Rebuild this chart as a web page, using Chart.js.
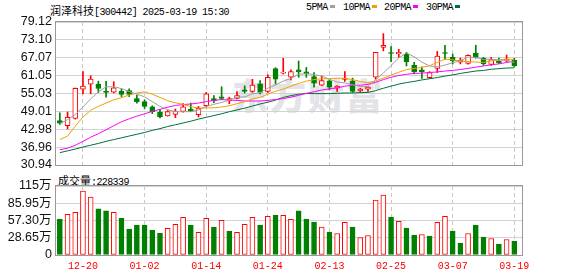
<!DOCTYPE html>
<html lang="zh-CN">
<head>
  <meta charset="UTF-8" />
  <title>润泽科技 日K</title>
  <script src="https://cdn.jsdelivr.net/npm/chart.js@4.4.1/dist/chart.umd.min.js"></script>
  <style>
    html, body { margin: 0; padding: 0; background: #fff; }
    #wrap { position: relative; width: 578px; height: 276px; overflow: hidden; }
    .abs { position: absolute; white-space: nowrap; line-height: 12px; color: #000; }
    .cjk { font: 11px 'Noto Sans CJK SC', sans-serif; }
    .mono { font: 10px 'Liberation Mono', monospace; letter-spacing: -0.6px; }
    .sq { display: inline-block; width: 5px; height: 3px; margin: 0 0 2px 2px; vertical-align: middle; }
    #watermark {
      position: absolute; left: 232px; top: 68px;
      font: 900 36px 'Noto Sans CJK SC', sans-serif;
      color: #e3e3e8; letter-spacing: 2px; white-space: nowrap;
    }
    canvas { position: absolute; left: 0; }
    #priceChart { top: 0; }
    #volChart { top: 170px; }
  </style>
</head>
<body>
<div id="wrap">
  <div id="watermark">东方财富</div>

  <div class="abs" style="left:50px; top:2px;"><span class="cjk">润泽科技</span><span class="mono">[300442] 2025-03-19 15:30</span></div>
  <div class="abs mono" style="left:306px; top:2px;">5PMA<span class="sq" style="background:#a0a0a0"></span></div>
  <div class="abs mono" style="left:343px; top:2px;">10PMA<span class="sq" style="background:#f0a000"></span></div>
  <div class="abs mono" style="left:384px; top:2px;">20PMA<span class="sq" style="background:#ff00ff"></span></div>
  <div class="abs mono" style="left:426px; top:2px;">30PMA<span class="sq" style="background:#006f3c"></span></div>
  <div class="abs" style="left:58px; top:172px;"><span class="cjk">成交量</span><span class="mono">:228339</span></div>

  <canvas id="priceChart" width="578" height="170"></canvas>
  <canvas id="volChart" width="578" height="106"></canvas>
</div>

<script>
  // ==== DATA ====
  const dates = [
    '12-17','12-18','12-19','12-20','12-23','12-24','12-25','12-26','12-27','12-30','12-31',
    '01-02','01-03','01-06','01-07','01-08','01-09','01-10','01-13','01-14','01-15','01-16','01-17',
    '01-20','01-21','01-22','01-23','01-24','01-27',
    '02-05','02-06','02-07','02-10','02-11','02-12','02-13','02-14','02-17','02-18','02-19','02-20',
    '02-21','02-24','02-25','02-26','02-27','02-28',
    '03-03','03-04','03-05','03-06','03-07','03-10','03-11','03-12','03-13','03-14','03-17','03-18','03-19'
  ];

  const opens = [45.9, 44.2, 46.6, 56.5, 58.2, 58.2, 55.55, 55.5, 55.8, 56.0,
                 53.3, 52.3, 50.5, 48.8, 47.5, 48.0, 49.0, 49.8, 47.9, 50.9,
                 53.3, 53.9, 52.7, 53.4, 56.3, 55.7, 58.3, 55.7, 63.4, 61.9,
                 60.5, 62.97, 62.3, 60.7, 57.8, 59.3, 56.8, 59.8, 59.3, 55.9,
                 56.5, 60.5, 70.55, 68.8, 68.4, 68.2, 64.5, 62.97, 60.4, 63.5,
                 68.8, 67.2, 65.6, 65.2, 68.65, 67.0, 64.8, 65.9, 66.1, 66.3];
  const closes = [45.0, 47.0, 56.8, 57.5, 59.9, 56.7, 55.4, 56.9, 54.7, 54.7,
                  52.3, 50.7, 48.9, 47.1, 48.9, 49.1, 50.5, 49.1, 50.0, 54.9,
                  52.6, 53.4, 53.3, 54.3, 55.7, 57.9, 55.4, 60.5, 59.9, 62.2,
                  62.4, 62.3, 61.7, 58.5, 59.4, 57.2, 57.5, 60.2, 55.7, 56.5,
                  57.2, 68.9, 71.3, 68.5, 68.9, 65.75, 62.3, 62.4, 62.1, 67.65,
                  68.5, 66.1, 66.3, 67.9, 67.1, 65.0, 66.5, 65.4, 66.3, 64.4];
  const highs = [48.5, 48.8, 56.9, 62.4, 61.0, 59.2, 59.1, 59.0, 56.6, 56.6,
                 54.5, 52.9, 50.9, 49.6, 49.3, 49.8, 51.6, 51.8, 50.7, 55.4,
                 54.3, 57.3, 53.8, 55.7, 57.6, 59.8, 59.4, 61.3, 63.7, 66.9,
                 62.97, 65.97, 63.8, 62.1, 60.96, 59.6, 57.7, 62.4, 60.2, 56.8,
                 57.4, 68.9, 75.2, 70.8, 69.9, 68.9, 65.5, 64.0, 62.4, 69.2,
                 71.3, 68.3, 67.0, 68.1, 71.3, 67.2, 67.2, 67.0, 68.0, 66.9];
  const lows = [44.6, 43.1, 46.4, 54.9, 54.9, 55.4, 53.8, 55.2, 54.0, 54.0,
                51.8, 50.0, 48.25, 46.8, 47.4, 46.9, 48.7, 48.9, 47.1, 50.5,
                51.9, 52.9, 51.6, 53.2, 55.2, 55.4, 54.9, 55.4, 58.2, 61.6,
                59.6, 60.5, 60.5, 57.2, 57.7, 56.3, 55.7, 59.1, 55.4, 55.4,
                55.7, 59.8, 69.4, 65.75, 67.2, 64.3, 61.6, 60.1, 60.1, 62.1,
                66.5, 65.0, 65.0, 64.9, 66.9, 64.5, 64.5, 65.1, 65.6, 64.1];

  const ma5 = [44.9, 46.2, 47.9, 50.5, 53.2, 55.6, 57.3, 57.3, 56.7, 55.7,
               54.8, 53.9, 52.3, 50.7, 49.6, 48.9, 48.9, 48.9, 49.5, 50.7,
               51.4, 52.0, 52.8, 53.7, 53.9, 54.9, 55.3, 56.8, 57.9, 59.2,
               60.1, 61.5, 61.7, 61.4, 60.9, 59.8, 58.9, 58.6, 58.0, 57.4,
               57.4, 59.7, 61.9, 64.5, 67.0, 68.7, 67.4, 65.6, 64.3, 64.0,
               64.6, 65.4, 66.1, 67.3, 67.2, 66.5, 66.6, 66.4, 66.1, 65.5];
  const ma10 = [39.5, 40.7, 44.0, 47.1, 49.4, 50.7, 51.8, 52.9, 53.6, 54.5,
                55.2, 55.6, 54.8, 53.7, 52.6, 51.9, 51.4, 50.6, 50.1, 50.2,
                50.2, 50.5, 50.9, 51.6, 52.3, 53.2, 53.7, 54.8, 55.8, 56.5,
                57.5, 58.4, 59.2, 59.7, 60.0, 60.0, 60.2, 60.1, 59.7, 59.1,
                58.6, 59.3, 60.2, 61.2, 62.2, 63.1, 63.5, 63.8, 64.4, 65.5,
                66.6, 66.4, 65.9, 65.8, 65.6, 65.5, 66.0, 66.3, 66.7, 66.4];
  const ma20 = [36.1, 36.6, 37.6, 38.9, 40.3, 41.5, 42.8, 44.2, 45.5, 46.5,
                47.4, 48.2, 49.0, 49.7, 50.4, 51.0, 51.3, 51.5, 51.8, 52.3,
                52.7, 53.0, 52.8, 52.7, 52.5, 52.5, 52.5, 52.7, 53.0, 53.3,
                53.8, 54.4, 55.1, 55.6, 56.2, 56.6, 56.9, 57.5, 57.8, 57.8,
                58.1, 58.8, 59.7, 60.5, 61.1, 61.5, 61.8, 61.9, 62.1, 62.3,
                62.6, 62.8, 63.1, 63.5, 63.9, 64.3, 64.7, 65.0, 65.5, 65.9];
  const ma30 = [35.1, 35.7, 36.3, 37.0, 37.6, 38.2, 38.9, 39.5, 40.1, 40.7,
                41.3, 41.9, 42.6, 43.2, 43.9, 44.5, 45.1, 45.7, 46.4, 47.0,
                47.6, 48.2, 48.9, 49.5, 50.1, 50.8, 51.5, 52.1, 52.8, 53.7,
                54.3, 54.8, 55.0, 55.0, 55.0, 55.0, 55.1, 55.2, 55.2, 55.3,
                55.4, 56.0, 56.8, 57.5, 58.2, 58.7, 59.1, 59.6, 60.0, 60.4,
                60.9, 61.3, 61.8, 62.2, 62.6, 62.8, 63.2, 63.4, 63.6, 63.7];

  // volume in 万
  const volumes = [60.0, 67.9, 71.2, 106.6, 96.5, 76.9, 73.5, 71.2, 61.7, 43.2,
                   49.9, 49.9, 41.5, 36.5, 44.3, 51.1, 62.8, 49.9, 37.6, 61.2,
                   46.6, 57.8, 39.8, 37.6, 51.1, 62.8, 49.9, 64.5, 66.2, 66.2,
                   59.5, 73.5, 60.0, 55.0, 46.6, 38.1, 35.9, 54.4, 46.6, 29.2,
                   32.5, 91.4, 99.9, 63.4, 56.1, 44.9, 33.1, 34.2, 31.4, 54.4,
                   64.5, 39.8, 19.6, 35.9, 49.9, 29.7, 27.5, 18.0, 25.8, 22.8];
  // 1 = red (up), 0 = green (down)
  const volUp = [0,1,1,1,1,0,0,1,0,0, 0,0,0,0,1,1,1,0,1,1, 0,1,0,1,1,1,0,1,0,1,
                 1,0,0,0,1,0,1,1,0,1, 1,1,1,0,1,0,0,1,0,1, 1,0,0,1,0,0,1,0,1,0];

  const priceTicks = [30.94, 36.96, 42.98, 49.01, 55.03, 61.05, 67.07, 73.10, 79.12];
  const priceTickLabels = ['30.94', '36.96', '42.98', '49.01', '55.03', '61.05', '67.07', '73.10', '79.12'];
  const volTicks = [0, 28.65, 57.30, 85.95, 115];
  const volTickLabels = ['0', '28.65万', '57.30万', '85.95万', '115万'];
  const xTickIdx = [3, 11, 19, 27, 35, 43, 51, 59];

  // ==== STYLE ====
  const RED = '#ff0000';
  const GREEN = '#008000';
  const GRID = '#d2d2d2';

  Chart.defaults.font.family = "'Liberation Sans', Arial, sans-serif";
  Chart.defaults.animation = false;

  const frame = {
    id: 'frame',
    afterDraw(chart) {
      const { ctx, chartArea: a } = chart;
      ctx.save();
      ctx.strokeStyle = '#999';
      ctx.lineWidth = 1;
      ctx.strokeRect(a.left - 0.5, a.top - 0.5, a.right - a.left + 1, a.bottom - a.top + 1);
      ctx.restore();
    }
  };

  const pts = arr => arr.map((v, i) => ({ x: i, y: v }));
  const up = i => closes[i] >= opens[i];

  function maLine(data, color) {
    return { type: 'line', data: pts(data), borderColor: color, borderWidth: 1,
             pointRadius: 0, tension: 0, fill: false };
  }

  function xScale(showLabels) {
    return {
      type: 'linear', min: -0.5, max: 60, bounds: 'data', offset: false,
      afterBuildTicks: s => { s.ticks = xTickIdx.map(v => ({ value: v })); },
      ticks: {
        display: showLabels, padding: 5, color: RED, autoSkip: false, maxRotation: 0,
        font: { family: "'Liberation Mono', monospace", size: 10 },
        callback: v => dates[v]
      },
      grid: { color: '#c8c8c8', drawTicks: false, offset: false },
      border: { display: false, dash: [4, 3] },
      afterFit: s => { s.height = showLabels ? 21 : 0; s.paddingLeft = 0; s.paddingRight = 0; }
    };
  }

  function yScale(min, max, ticks, labels) {
    return {
      min, max,
      afterBuildTicks: s => { s.ticks = ticks.map(v => ({ value: v })); },
      ticks: {
        padding: 4, color: '#111', autoSkip: false,
        font: { size: 12.5 },
        callback: (v, i) => labels[i]
      },
      grid: { color: GRID, drawTicks: false },
      border: { display: false },
      afterFit: s => { s.width = 56; s.paddingTop = 0; s.paddingBottom = 0; }
    };
  }

  // ==== PRICE CHART ====
  new Chart(document.getElementById('priceChart'), {
    type: 'bar',
    data: {
      datasets: [
        maLine(ma5, '#a0a0a0'),
        maLine(ma10, '#f0a000'),
        maLine(ma20, '#ff00ff'),
        maLine(ma30, '#006f3c'),
        {
          // candle bodies
          data: opens.map((o, i) => ({ x: i, y: [o, closes[i]] })),
          backgroundColor: c => up(c.dataIndex) ? '#ffffff' : GREEN,
          borderColor: c => up(c.dataIndex) ? RED : GREEN,
          borderWidth: 1, borderSkipped: false, barThickness: 5,
          minBarLength: 1, grouped: false
        },
        {
          // wicks
          data: lows.map((l, i) => ({ x: i, y: [l, highs[i]] })),
          backgroundColor: c => up(c.dataIndex) ? RED : GREEN,
          borderWidth: 0, barThickness: 1, grouped: false
        }
      ]
    },
    options: {
      responsive: false,
      layout: { padding: { left: 0, top: 22, right: 56, bottom: 5 } },
      plugins: { legend: { display: false }, tooltip: { enabled: false } },
      scales: {
        x: xScale(false),
        y: yScale(30.94, 79.12, priceTicks, priceTickLabels)
      }
    },
    plugins: [frame]
  });

  // ==== VOLUME CHART ====
  new Chart(document.getElementById('volChart'), {
    type: 'bar',
    data: {
      datasets: [{
        data: pts(volumes),
        backgroundColor: c => volUp[c.dataIndex] ? '#ffffff' : GREEN,
        borderColor: c => volUp[c.dataIndex] ? RED : GREEN,
        borderWidth: 1, borderSkipped: false, barThickness: 5, grouped: false
      }]
    },
    options: {
      responsive: false,
      layout: { padding: { left: 0, top: 16, right: 56, bottom: 0 } },
      plugins: { legend: { display: false }, tooltip: { enabled: false } },
      scales: {
        x: xScale(true),
        y: yScale(0, 115, volTicks, volTickLabels)
      }
    },
    plugins: [frame]
  });
</script>
</body>
</html>
